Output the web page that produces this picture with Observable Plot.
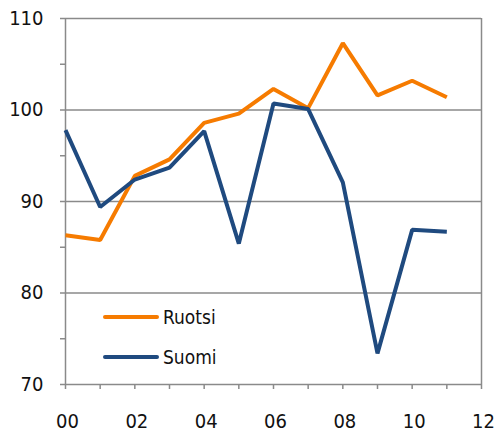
<!DOCTYPE html>
<html>
<head>
<meta charset="utf-8">
<script src="https://cdn.jsdelivr.net/npm/d3@7"></script>
<script src="https://cdn.jsdelivr.net/npm/@observablehq/plot@0.6"></script>
<style>
  html, body { margin: 0; padding: 0; background: #fff; }
  #wrap { position: relative; width: 496px; height: 433px; }
  #legend { position: absolute; left: 0; top: 0; pointer-events: none; }
</style>
</head>
<body>
<div id="wrap"></div>
<script>
const years = [0, 1, 2, 3, 4, 5, 6, 7, 8, 9, 10, 11];
const ruotsi = [86.3, 85.8, 92.8, 94.6, 98.6, 99.6, 102.3, 100.2, 107.3, 101.6, 103.2, 101.4];
const suomi  = [97.8, 89.4, 92.4, 93.7, 97.7, 85.4, 100.7, 100.1, 92.1, 73.4, 86.9, 86.7];
const seriesNames = ["Ruotsi", "Suomi"];
const seriesColors = ["#f67b00", "#1f4a7f"];
const xTicks = [0, 2, 4, 6, 8, 10, 12];
const xLabels = ["00", "02", "04", "06", "08", "10", "12"];
const yTicks = [70, 80, 90, 100, 110];
const yMinor = [75, 85, 95, 105];

const rows = [];
years.forEach((yr, i) => {
  rows.push({year: yr, value: ruotsi[i], series: seriesNames[0]});
  rows.push({year: yr, value: suomi[i], series: seriesNames[1]});
});

const gray = "#8a8a8a";
const fontFamily = '"Liberation Sans Narrow", "DejaVu Sans Condensed", "Liberation Sans", sans-serif';

const chart = Plot.plot({
  width: 496,
  height: 433,
  marginLeft: 65,
  marginRight: 15,
  marginTop: 18,
  marginBottom: 49,
  style: {fontFamily, fontSize: "20px", color: "#111", background: "#fff"},
  x: {domain: [0, 12]},
  y: {domain: [70, 110]},
  color: {domain: seriesNames, range: seriesColors},
  marks: [
    Plot.gridY(yTicks.slice(1), {stroke: gray, strokeOpacity: 1, strokeWidth: 1.5}),
    Plot.ruleX([0], {stroke: gray, strokeWidth: 1.5}),
    Plot.ruleX([12], {stroke: gray, strokeWidth: 1.5}),
    Plot.ruleY([70], {stroke: gray, strokeWidth: 1.5}),
    Plot.axisY(yTicks, {tickSize: 5, tickPadding: 17, stroke: gray, strokeWidth: 1.5, label: null, fontSize: 20}),
    Plot.axisY(yMinor, {tickSize: 5, text: null, stroke: gray, strokeWidth: 1.5, label: null}),
    Plot.axisX(d3.range(0, 13), {tickSize: 5, text: null, stroke: gray, strokeWidth: 1.5, label: null}),
    Plot.axisX(xTicks, {tickSize: 0, tickPadding: 29, dx: 2, tickFormat: (d) => xLabels[xTicks.indexOf(d)], label: null, fontSize: 20}),
    Plot.line(rows, {x: "year", y: "value", z: "series", stroke: "series", strokeWidth: 4, strokeLinejoin: "miter", strokeLinecap: "butt"})
  ]
});

const wrap = document.getElementById("wrap");
wrap.appendChild(chart);

// Legend (inside the plot area, bottom-left)
const ns = "http://www.w3.org/2000/svg";
const leg = document.createElementNS(ns, "svg");
leg.setAttribute("id", "legend");
leg.setAttribute("width", 496);
leg.setAttribute("height", 433);
const legY = [317, 357];
seriesNames.forEach((name, i) => {
  const ln = document.createElementNS(ns, "line");
  ln.setAttribute("x1", 105); ln.setAttribute("x2", 157);
  ln.setAttribute("y1", legY[i]); ln.setAttribute("y2", legY[i]);
  ln.setAttribute("stroke", seriesColors[i]);
  ln.setAttribute("stroke-width", 4);
  ln.setAttribute("stroke-linecap", "round");
  leg.appendChild(ln);
  const tx = document.createElementNS(ns, "text");
  tx.setAttribute("x", 163);
  tx.setAttribute("y", legY[i]);
  tx.setAttribute("dy", "0.35em");
  tx.setAttribute("font-family", fontFamily);
  tx.setAttribute("font-size", 19);
  tx.setAttribute("fill", "#111");
  tx.textContent = name;
  leg.appendChild(tx);
});
wrap.appendChild(leg);
</script>
</body>
</html>
